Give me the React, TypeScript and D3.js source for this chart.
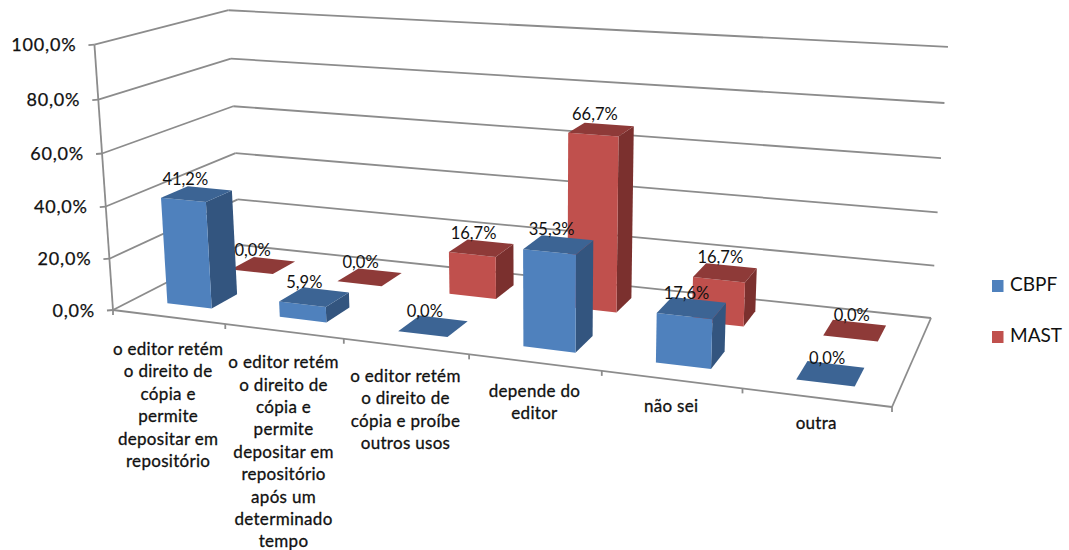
import React from "react";
import * as d3 from "d3";

const categories = ["c0", "c1", "c2", "c3", "c4", "c5"];
const categoryLines = [
  ["o editor retém", "o direito de", "cópia e", "permite", "depositar em", "repositório"],
  ["o editor retém", "o direito de", "cópia e", "permite", "depositar em", "repositório", "após um", "determinado", "tempo"],
  ["o editor retém", "o direito de", "cópia e proíbe", "outros usos"],
  ["depende do", "editor"],
  ["não sei"],
  ["outra"],
];
const seriesNames = ["CBPF", "MAST"];
const cbpfValues = [41.2, 5.9, 0, 35.3, 17.6, 0];
const mastValues = [0, 0, 16.7, 66.7, 16.7, 0];
const yTicks = [0, 20, 40, 60, 80, 100];

const palette: Record<string, { front: string; side: string; top: string }> = {
  CBPF: { front: "#4F81BD", side: "#33557F", top: "#3C6494" },
  MAST: { front: "#C0504D", side: "#7B302E", top: "#8E3A38" },
};
const fmt = (v: number) => v.toFixed(1).replace(".", ",") + "%";

// Chart box corners as seen on the picture: a projective camera is solved from them.
const floorQuad = [[113, 310], [892, 407], [931, 318], [240, 245]];
const topAnchors = [
  { u: 0, v: 0, p: [95, 45] },
  { u: 0, v: 1, p: [228, 9] },
  { u: 1, v: 1, p: [948, 48] },
];

function makeCamera() {
  const [[x0, y0], [x1, y1], [x2, y2], [x3, y3]] = floorQuad;
  const dx1 = x1 - x2, dx2 = x3 - x2, sx = x0 - x1 + x2 - x3;
  const dy1 = y1 - y2, dy2 = y3 - y2, sy = y0 - y1 + y2 - y3;
  const den = dx1 * dy2 - dx2 * dy1;
  const g = (sx * dy2 - dx2 * sy) / den;
  const h = (dx1 * sy - sx * dy1) / den;
  const a = x1 - x0 + g * x1, b = x3 - x0 + h * x3, c = x0;
  const d = y1 - y0 + g * y1, e = y3 - y0 + h * y3, f = y0;
  // least squares for the height column (p, q, r)
  const A: number[][] = [];
  const B: number[] = [];
  for (const t of topAnchors) {
    const D = g * t.u + h * t.v + 1;
    A.push([1, 0, -t.p[0]]); B.push(t.p[0] * D - (a * t.u + b * t.v + c));
    A.push([0, 1, -t.p[1]]); B.push(t.p[1] * D - (d * t.u + e * t.v + f));
  }
  const M = [0, 1, 2].map((i) => [0, 1, 2].map((j) => d3.sum(A, (row) => row[i] * row[j])));
  const R = [0, 1, 2].map((i) => d3.sum(A, (row, k) => row[i] * B[k]));
  const det3 = (m: number[][]) =>
    m[0][0] * (m[1][1] * m[2][2] - m[1][2] * m[2][1]) -
    m[0][1] * (m[1][0] * m[2][2] - m[1][2] * m[2][0]) +
    m[0][2] * (m[1][0] * m[2][1] - m[1][1] * m[2][0]);
  const dm = det3(M);
  const sol = [0, 1, 2].map((col) => det3(M.map((row, i) => row.map((val, j) => (j === col ? R[i] : val)))) / dm);
  const [p, q, r] = sol;
  return (u: number, v: number, z: number): [number, number] => {
    const w = g * u + h * v + 1 + r * z;
    return [(a * u + b * v + c + p * z) / w, (d * u + e * v + f + q * z) / w];
  };
}
const project = makeCamera();

const uScale = d3.scaleBand<string>().domain(categories).range([0, 1]).paddingInner(0.6).paddingOuter(0.3).align(0.51);
const uEdge = d3.scaleLinear().domain([0, categories.length]).range([0, 1]);
const vScale = d3.scaleBand<string>().domain(seriesNames).range([0, 1]).paddingInner(0.6).paddingOuter(0.3);
const zScale = d3.scaleLinear().domain([0, 100]).range([0, 1]);

const labelShift = d3.scaleLinear().domain([190, 830]).range([-11.5, -3.5]);
const categoryGap = d3.scaleLinear().domain([170, 817]).range([38, 31]);

const poly = (pts: [number, number][]) => pts.map((p) => p.map((n) => n.toFixed(1)).join(",")).join(" ");
const segment = (a: [number, number], b: [number, number]) => d3.line()([a, b]) as string;

type Bar = { cat: number; series: string; value: number };
const bars: Bar[] = [];
categories.forEach((_, i) => {
  bars.push({ cat: i, series: "MAST", value: mastValues[i] });
  bars.push({ cat: i, series: "CBPF", value: cbpfValues[i] });
});

const GRID = "#8C8C8C";
const FONT = "Lato, Carlito, sans-serif";
const TXT = "#111";

export default function App() {
  return (
    <svg width={1069} height={550} style={{ position: "absolute", left: 0, top: 0, background: "#fff" }} fontFamily={FONT}>
      {/* walls */}
      <g stroke={GRID} strokeWidth={1.8} fill="none">
        {yTicks.map((t) => {
          const z = zScale(t);
          const fl = project(0, 0, z), bl = project(0, 1, z), br = project(1, 1, z);
          return (
            <g key={t}>
              <path d={segment(fl, bl)} />
              <path d={segment(bl, br)} />
              <path d={segment(fl, [fl[0] - 6, fl[1] + 0.5])} />
            </g>
          );
        })}
        <path d={segment(project(0, 0, 0), project(0, 0, 1))} />
        <path d={segment(project(0, 0, 0), project(1, 0, 0))} />
        <path d={segment(project(1, 0, 0), project(1, 1, 0))} />
        {d3.range(categories.length + 1).map((i) => {
          const p = project(uEdge(i), 0, 0);
          return <path key={i} d={segment(p, [p[0], p[1] + 5])} />;
        })}
      </g>
      {/* bars */}
      {bars.map((b) => {
        const name = categories[b.cat];
        const u0 = uScale(name)!, u1 = u0 + uScale.bandwidth();
        const v0 = vScale(b.series)!, v1 = v0 + vScale.bandwidth();
        const z = zScale(b.value);
        const c = palette[b.series];
        return (
          <g key={name + b.series}>
            {b.value > 0 && (
              <>
                <polygon points={poly([project(u1, v0, 0), project(u1, v1, 0), project(u1, v1, z), project(u1, v0, z)])} fill={c.side} />
                <polygon points={poly([project(u0, v0, 0), project(u1, v0, 0), project(u1, v0, z), project(u0, v0, z)])} fill={c.front} />
              </>
            )}
            <polygon points={poly([project(u0, v0, z), project(u1, v0, z), project(u1, v1, z), project(u0, v1, z)])} fill={c.top} />
          </g>
        );
      })}
      {/* data labels */}
      {bars.map((b) => {
        const name = categories[b.cat];
        const um = uScale(name)! + uScale.bandwidth() / 2;
        const vm = vScale(b.series)! + vScale.bandwidth() / 2;
        const p = project(um, vm, zScale(b.value));
        return (
          <text key={name + b.series} x={p[0] + labelShift(p[0])} y={p[1] - 13.5} textAnchor="middle" dominantBaseline="middle" fontSize={16.5} fill={TXT}>
            {fmt(b.value)}
          </text>
        );
      })}
      {/* value axis labels */}
      {yTicks.map((t) => {
        const p = project(0, 0, zScale(t));
        return (
          <text key={t} x={p[0] - 18} y={p[1] + 2} textAnchor="end" dominantBaseline="middle" fontSize={18} letterSpacing={0.8} fill={TXT} stroke={TXT} strokeWidth={0.25}>
            {fmt(t)}
          </text>
        );
      })}
      {/* category labels */}
      {categoryLines.map((lines, i) => {
        const a = project(uEdge(i), 0, 0), b = project(uEdge(i + 1), 0, 0);
        const mx = (a[0] + b[0]) / 2, my = (a[1] + b[1]) / 2;
        return (
          <text key={i} textAnchor="middle" fontSize={17} letterSpacing={0.3} fill={TXT} stroke={TXT} strokeWidth={0.3}>
            {lines.map((l, j) => (
              <tspan key={j} x={mx - 1} y={my + categoryGap(mx) + j * 22.4}>{l}</tspan>
            ))}
          </text>
        );
      })}
      {/* legend */}
      {seriesNames.map((s, i) => (
        <g key={s}>
          <rect x={992} y={280 + i * 51} width={11.5} height={12} fill={palette[s].front} />
          <text x={1010} y={286 + i * 51} dominantBaseline="middle" fontSize={19} fill={TXT}>{s}</text>
        </g>
      ))}
    </svg>
  );
}
